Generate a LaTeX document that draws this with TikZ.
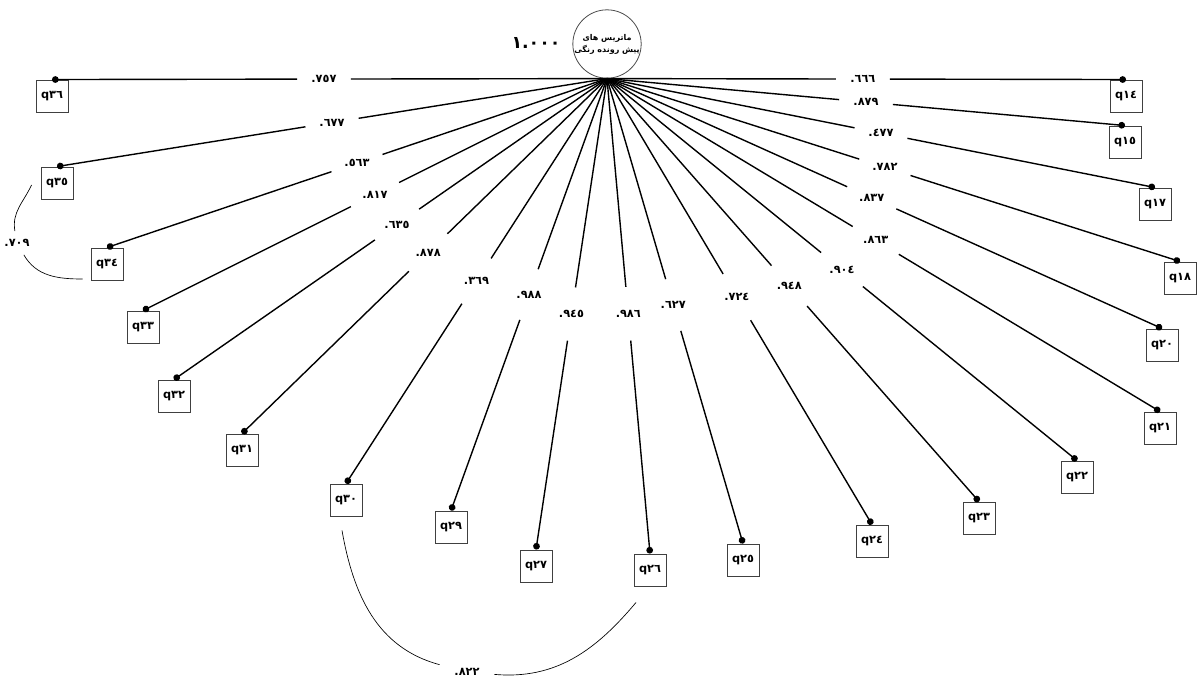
\documentclass[tikz,border=0pt]{standalone}
\usepackage{fontspec}
\setmainfont{DejaVu Sans}
\newfontfamily\arabicfont[Script=Arabic]{DejaVu Sans}
\TeXXeTstate=1
\usetikzlibrary{calc,arrows.meta}

\begin{document}
\begin{tikzpicture}[x=0.75pt,y=0.75pt]
\tikzstyle{every node}=[font=\bfseries\fontsize{8.5}{10}\selectfont]
\tikzstyle{qbox}=[draw=black!75, line width=0.7pt, minimum size=24pt, inner sep=0pt]
\tikzstyle{val}=[circle, minimum size=40pt, inner sep=0pt]
\tikzstyle{link}=[line width=1.05pt]
\tikzstyle{dotend}=[-{Circle[length=5pt]}]
\tikzstyle{cov}=[line width=0.5pt]
\tikzstyle{covval}=[inner xsep=11pt, inner ysep=6pt]
	\useasboundingbox (0,0) rectangle (1198,683);

	\node[circle, draw=black!70, line width=0.6pt, minimum size=46.5pt, inner sep=0pt, align=center, font=\arabicfont\bfseries\fontsize{6}{9}\selectfont] (mat) at (607,639) {\beginR ماتریس های\endR\\\beginR پیش رونده رنگی\endR};
	\node[font=\bfseries\fontsize{13}{15}\selectfont] (one) at (536,640) {١.٠٠٠};

	% left side
	\node[qbox] (q36) at (52,587) {q٣٦}; \node[val] (v36) at ($(mat.south)!.51!(q36.north)$) {.٧٥٧}; \draw[link] (mat.south) to (v36); \draw[link,dotend] (v36) to (q36.north);
	\node[qbox] (q35) at (57,500) {q٣٥}; \node[val] (v35) at ($(mat.south)!.50!(q35.north)$) {.٦٧٧}; \draw[link] (mat.south) to (v35); \draw[link,dotend] (v35) to (q35.north);
	\node[qbox] (q34) at (107,419) {q٣٤}; \node[val] (v34) at ($(mat.south)!.50!(q34.north)$) {.٥٦٣}; \draw[link] (mat.south) to (v34); \draw[link,dotend] (v34) to (q34.north);
	\node[qbox] (q33) at (143,356) {q٣٣}; \node[val] (v33) at ($(mat.south)!.50!(q33.north)$) {.٨١٧}; \draw[link] (mat.south) to (v33); \draw[link,dotend] (v33) to (q33.north);
	\node[qbox] (q32) at (174,287) {q٣٢}; \node[val] (v32) at ($(mat.south)!.485!(q32.north)$) {.٦٣٥}; \draw[link] (mat.south) to (v32); \draw[link,dotend] (v32) to (q32.north);
	\node[qbox] (q31) at (242,233) {q٣١}; \node[val] (v31) at ($(mat.south)!.49!(q31.north)$) {.٨٧٨}; \draw[link] (mat.south) to (v31); \draw[link,dotend] (v31) to (q31.north);
	\node[qbox] (q30) at (346,183) {q٣٠}; \node[val] (v30) at ($(mat.south)!.50!(q30.north)$) {.٣٦٩}; \draw[link] (mat.south) to (v30); \draw[link,dotend] (v30) to (q30.north);
	\node[qbox] (q29) at (451,156) {q٢٩}; \node[val] (v29) at ($(mat.south)!.50!(q29.north)$) {.٩٨٨}; \draw[link] (mat.south) to (v29); \draw[link,dotend] (v29) to (q29.north);
	\node[qbox] (q27) at (536,117) {q٢٧}; \node[val] (v27) at ($(mat.south)!.50!(q27.north)$) {.٩٤٥}; \draw[link] (mat.south) to (v27); \draw[link,dotend] (v27) to (q27.north);

	% right side
	\node[qbox] (q26) at (650,113) {q٢٦}; \node[val] (v26) at ($(mat.south)!.495!(q26.north)$) {.٩٨٦}; \draw[link] (mat.south) to (v26); \draw[link,dotend] (v26) to (q26.north);
	\node[qbox] (q25) at (743,123) {q٢٥}; \node[val] (v25) at ($(mat.south)!.487!(q25.north)$) {.٦٢٧}; \draw[link] (mat.south) to (v25); \draw[link,dotend] (v25) to (q25.north);
	\node[qbox] (q24) at (872,142) {q٢٤}; \node[val] (v24) at ($(mat.south)!.49!(q24.north)$) {.٧٢٤}; \draw[link] (mat.south) to (v24); \draw[link,dotend] (v24) to (q24.north);
	\node[qbox] (q23) at (979,165) {q٢٣}; \node[val] (v23) at ($(mat.south)!.49!(q23.north)$) {.٩٤٨}; \draw[link] (mat.south) to (v23); \draw[link,dotend] (v23) to (q23.north);
	\node[qbox] (q22) at (1077,206) {q٢٢}; \node[val] (v22) at ($(mat.south)!.50!(q22.north)$) {.٩٠٤}; \draw[link] (mat.south) to (v22); \draw[link,dotend] (v22) to (q22.north);
	\node[qbox] (q21) at (1160,255) {q٢١}; \node[val] (v21) at ($(mat.south)!.486!(q21.north)$) {.٨٦٣}; \draw[link] (mat.south) to (v21); \draw[link,dotend] (v21) to (q21.north);
	\node[qbox] (q20) at (1162,338) {q٢٠}; \node[val] (v20) at ($(mat.south)!.477!(q20.north)$) {.٨٣٧}; \draw[link] (mat.south) to (v20); \draw[link,dotend] (v20) to (q20.north);
	\node[qbox] (q18) at (1180,405) {q١٨}; \node[val] (v18) at ($(mat.south)!.485!(q18.north)$) {.٧٨٢}; \draw[link] (mat.south) to (v18); \draw[link,dotend] (v18) to (q18.north);
	\node[qbox] (q17) at (1155,479) {q١٧}; \node[val] (v17) at ($(mat.south)!.50!(q17.north)$) {.٤٧٧}; \draw[link] (mat.south) to (v17); \draw[link,dotend] (v17) to (q17.north);
	\node[qbox] (q15) at (1125,541) {q١٥}; \node[val] (v15) at ($(mat.south)!.50!(q15.north)$) {.٨٧٩}; \draw[link] (mat.south) to (v15); \draw[link,dotend] (v15) to (q15.north);
	\node[qbox] (q14) at (1126,587) {q١٤}; \node[val] (v14) at ($(mat.south)!.493!(q14.north)$) {.٦٦٦}; \draw[link] (mat.south) to (v14); \draw[link,dotend] (v14) to (q14.north);

	% covariances
	\node[covval] (c709) at (17,440) {.٧٠٩};
	\draw[cov] ($(q35.west)+(-9,-2)$) to[out=-115,in=100] (c709); \draw[cov] (c709) to[out=-60,in=180] ($(q34.west)+(-8,-15)$);
	\node[covval] (c822) at (467,11) {.٨٢٢};
	\draw[cov] ($(q30.south)+(-4,-14)$) to[out=-80,in=165] (c822); \draw[cov] (c822) to[out=-5,in=-130] ($(q26.south)+(-14,-16)$);
\end{tikzpicture}
\end{document}
